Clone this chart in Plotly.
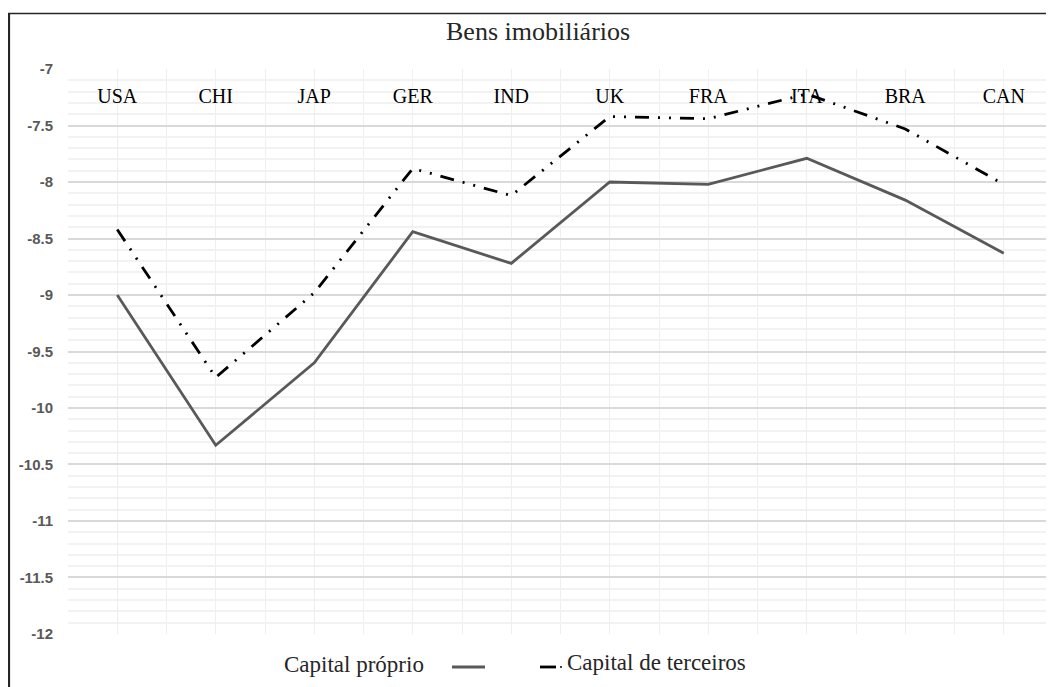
import plotly.graph_objects as go

categories = ["USA", "CHI", "JAP", "GER", "IND", "UK", "FRA", "ITA", "BRA", "CAN"]
capital_proprio = [-9.00, -10.33, -9.60, -8.44, -8.72, -8.00, -8.02, -7.79, -8.16, -8.63]
capital_terceiros = [-8.42, -9.73, -8.98, -7.88, -8.12, -7.42, -7.44, -7.22, -7.53, -8.02]
y_ticks = [-7, -7.5, -8, -8.5, -9, -9.5, -10, -10.5, -11, -11.5, -12]

# page body has an 8px margin; work in window coordinates and convert
OFF = 8
W, H = 1046, 679
L, T = 68 - OFF, 69 - OFF
B = H - (634 - OFF)
R = W - (1053 - OFF)
PW = W - L - R
PH = H - T - B

def px(x):
    return (x - OFF - L) / PW

def py(y):
    return (H - B - (y - OFF)) / PH

xs = list(range(len(categories)))

fig = go.Figure()
fig.add_trace(go.Scatter(
    x=xs, y=capital_proprio, mode="lines", name="Capital próprio",
    line=dict(color="#595959", width=2.8), showlegend=False,
))
fig.add_trace(go.Scatter(
    x=xs, y=capital_terceiros, mode="lines", name="Capital de terceiros",
    line=dict(color="#000000", width=2.8, dash="14px,9px,2px,9px,2px,9px"), showlegend=False,
))

serif = "Liberation Serif, Times New Roman, serif"

shapes = [
    # outer border (top and left)
    dict(type="line", xref="paper", yref="paper", x0=px(8), x1=px(1070), y0=py(13.5), y1=py(13.5),
         line=dict(color="#262626", width=1.5)),
    dict(type="line", xref="paper", yref="paper", x0=px(9), x1=px(9), y0=py(13), y1=py(700),
         line=dict(color="#262626", width=2.2)),
    # legend keys
    dict(type="line", xref="paper", yref="paper", x0=px(452), x1=px(485), y0=py(667), y1=py(667),
         line=dict(color="#595959", width=2.8)),
    dict(type="line", xref="paper", yref="paper", x0=px(540), x1=px(556), y0=py(667), y1=py(667),
         line=dict(color="#000000", width=2.8)),
    dict(type="line", xref="paper", yref="paper", x0=px(560), x1=px(562), y0=py(667), y1=py(667),
         line=dict(color="#000000", width=1.6)),
]

annotations = [
    dict(text="Bens imobiliários", xref="paper", yref="paper", x=px(538), y=py(32),
         xanchor="center", yanchor="middle", showarrow=False,
         font=dict(family=serif, size=26, color="#262626")),
    dict(text="Capital próprio", xref="paper", yref="paper", x=px(282), y=py(664),
         xanchor="left", yanchor="middle", showarrow=False,
         font=dict(family=serif, size=23, color="#262626")),
    dict(text="Capital de terceiros", xref="paper", yref="paper", x=px(565), y=py(662),
         xanchor="left", yanchor="middle", showarrow=False,
         font=dict(family=serif, size=23, color="#262626")),
]

fig.update_layout(
    width=W, height=H,
    margin=dict(l=L, r=R, t=T, b=B, pad=0),
    paper_bgcolor="white", plot_bgcolor="white",
    shapes=shapes, annotations=annotations,
    showlegend=False,
    xaxis=dict(
        range=[-0.5, len(categories) - 0.5],
        tickvals=xs, ticktext=categories,
        anchor="free", position=py(82), side="bottom",
        tickfont=dict(family=serif, size=20, color="#000000"),
        showgrid=True, gridcolor="#efefef", gridwidth=1.2,
        minor=dict(dtick=0.5, tick0=-0.5, showgrid=True, gridcolor="#efefef", gridwidth=1.2),
        zeroline=False, showline=False, ticks="",
    ),
    yaxis=dict(
        range=[-12.0005, -6.9995],
        tickvals=y_ticks, ticktext=[f"{v:g}" for v in y_ticks],
        tickfont=dict(family="Liberation Sans, Arial, sans-serif", size=15, color="#595959", weight="bold"),
        ticklabelstandoff=14,
        showgrid=True, gridcolor="#d9d9d9", gridwidth=1.5,
        minor=dict(dtick=0.1, showgrid=True, gridcolor="#f2f2f2", gridwidth=1.5),
        zeroline=False, showline=False, ticks="",
    ),
)

fig.write_html("out.html")
